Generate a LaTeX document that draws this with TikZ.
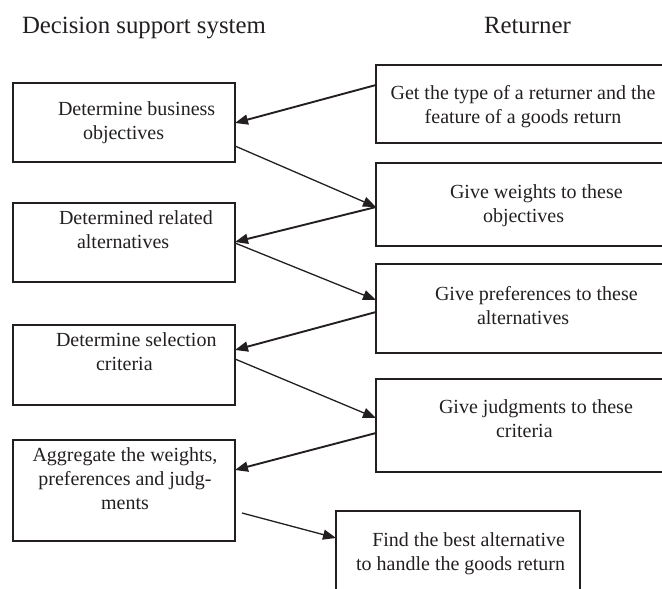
\documentclass[tikz,border=0pt]{standalone}
\usepackage{fontspec}
\setmainfont{Liberation Serif}
\usetikzlibrary{arrows.meta,calc}
\definecolor{ink}{RGB}{35,31,32}
\begin{document}
\begin{tikzpicture}[x=1bp,y=-1bp,
  box/.style={draw=ink,line width=1.4bp,rectangle,inner sep=0pt,outer sep=0pt,anchor=north west},
  txt/.style={inner sep=0pt,outer sep=0pt,font=\fontsize{20bp}{24bp}\selectfont,text=ink},
  hdr/.style={inner sep=0pt,outer sep=0pt,font=\fontsize{24.8bp}{28bp}\selectfont,text=ink,anchor=base west},
  back/.style={draw=ink,line width=1.9bp,-{Triangle[length=13bp,width=10bp]}},
  fwd/.style={draw=ink,line width=1.3bp,-{Triangle[length=13bp,width=10bp]}}]
\useasboundingbox (0,0) rectangle (662,589);
\clip (0,0) rectangle (662,589);
% headers
\node[hdr] (h1) at (22,34) {Decision support system};
\node[hdr] (h2) at (484,34) {Returner};
% left boxes
\node[box,minimum width=222bp,minimum height=79bp] (L1) at (13,83) {};
\node[box,minimum width=222bp,minimum height=79bp] (L2) at (13,203) {};
\node[box,minimum width=222bp,minimum height=80bp] (L3) at (13,325) {};
\node[box,minimum width=222bp,minimum height=101bp] (L4) at (13,440) {};
% right boxes
\node[box,minimum width=304bp,minimum height=78bp] (R1) at (376,65) {};
\node[box,minimum width=304bp,minimum height=83bp] (R2) at (376,163) {};
\node[box,minimum width=304bp,minimum height=89bp] (R3) at (376,264) {};
\node[box,minimum width=304bp,minimum height=93bp] (R4) at (376,379) {};
\node[box,minimum width=244bp,minimum height=100bp] (F) at (336,511) {};
% texts
\node[txt,align=left,anchor=north west] (tL1) at (58,102) {Determine business\\\hspace*{25bp}objectives};
\node[txt,align=left,anchor=north west] (tL2) at (59,211) {Determined related\\\hspace*{18bp}alternatives};
\node[txt,align=left,anchor=north west] (tL3) at (56,333) {Determine selection\\\hspace*{40bp}criteria};
\node[txt,align=center,anchor=north] (tL4) at (125,448) {Aggregate the weights,\\preferences and judg-\\ments};
\node[txt,align=center,anchor=north] (tR1) at (523,85) {Get the type of a returner and the\\feature of a goods return};
\node[txt,align=left,anchor=north west] (tR2) at (450,185) {Give weights to these\\\hspace*{33bp}objectives};
\node[txt,align=left,anchor=north west] (tR3) at (435,286) {Give preferences to these\\\hspace*{42bp}alternatives};
\node[txt,align=left,anchor=north west] (tR4) at (439,400) {Give judgments to these\\\hspace*{57bp}criteria};
\node[txt,align=right,anchor=north east] (tF) at (565,533) {Find the best alternative\\to handle the goods return};
% connectors
\coordinate (s8) at ($(L4.north east)+(7,73)$);
\draw[back] ($(R1.north west)+(0,20)$) -- ($(L1.north east)+(0,40)$);
\draw[fwd]  ($(L1.north east)+(0,63)$) -- ($(R2.north west)+(0,44)$);
\draw[back] ($(R2.north west)+(0,44)$) -- ($(L2.north east)+(0,39)$);
\draw[fwd]  ($(L2.north east)+(0,40)$) -- ($(R3.north west)+(0,36)$);
\draw[back] ($(R3.north west)+(0,48)$) -- ($(L3.north east)+(0,25)$);
\draw[fwd]  ($(L3.north east)+(0,34)$) -- ($(R4.north west)+(0,39)$);
\draw[back] ($(R4.north west)+(0,54)$) -- ($(L4.north east)+(0,30)$);
\draw[fwd]  (s8) -- ($(F.north west)+(0,27)$);
\end{tikzpicture}
\end{document}
